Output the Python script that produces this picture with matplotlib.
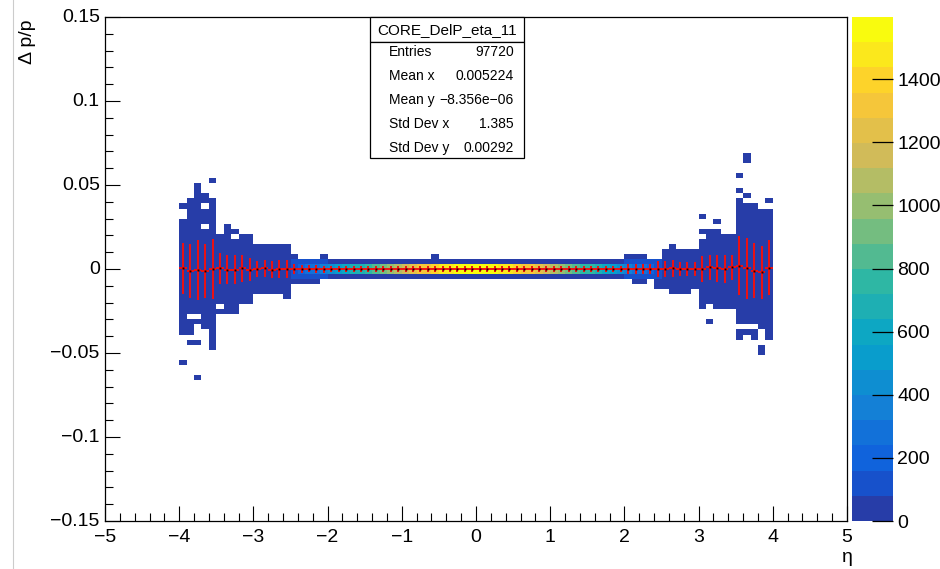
import numpy as np
import matplotlib
matplotlib.use("Agg")
import matplotlib.pyplot as plt
from matplotlib.colors import LinearSegmentedColormap, ListedColormap, BoundaryNorm
from matplotlib.patches import Rectangle
from matplotlib.lines import Line2D
from matplotlib.ticker import MultipleLocator

plt.rcParams['font.family'] = ['Liberation Sans', 'DejaVu Sans']

# ---------------- data ----------------
title = "CORE_DelP_eta_11"
stats_labels = ["Entries", "Mean x", "Mean y", "Std Dev x", "Std Dev y"]
stats_values = ["97720", "0.005224", "\u22128.356e\u221206", "1.385", "0.00292"]

x_bins = (100, -5.0, 5.0)       # eta binning
y_bins = (100, -0.15, 0.15)     # dp/p binning
z_max = 1597.0
n_levels = 20

# occupied columns: eta from -4.0 to 4.0 in steps of 0.1 (80 columns)
col_eta = [round(-3.95 + 0.1 * i, 2) for i in range(80)]

# upper / lower edge of the filled region in each column (dp/p)
env_top = [0.039, 0.042, 0.051, 0.045, 0.042, 0.021, 0.027, 0.024, 0.021, 0.021,
           0.015, 0.015, 0.015, 0.015, 0.015, 0.009, 0.006, 0.006, 0.006, 0.009,
           0.006, 0.006, 0.006, 0.006, 0.006, 0.006, 0.006, 0.006, 0.006, 0.006,
           0.006, 0.006, 0.006, 0.006, 0.009, 0.006, 0.006, 0.006, 0.006, 0.006,
           0.006, 0.006, 0.006, 0.006, 0.006, 0.006, 0.006, 0.006, 0.006, 0.006,
           0.006, 0.006, 0.006, 0.006, 0.006, 0.006, 0.006, 0.006, 0.006, 0.006,
           0.009, 0.009, 0.009, 0.006, 0.006, 0.012, 0.015, 0.012, 0.012, 0.012,
           0.024, 0.024, 0.024, 0.021, 0.021, 0.042, 0.039, 0.039, 0.036, 0.036]
env_bot = [-0.036, -0.036, -0.033, -0.036, -0.048, -0.027, -0.027, -0.027, -0.021, -0.021,
           -0.015, -0.015, -0.015, -0.015, -0.018, -0.009, -0.009, -0.009, -0.009, -0.006,
           -0.006, -0.006, -0.006, -0.006, -0.006, -0.006, -0.006, -0.006, -0.006, -0.006,
           -0.006, -0.006, -0.006, -0.006, -0.006, -0.006, -0.006, -0.006, -0.006, -0.006,
           -0.006, -0.006, -0.006, -0.006, -0.006, -0.006, -0.006, -0.006, -0.006, -0.006,
           -0.006, -0.006, -0.006, -0.006, -0.006, -0.006, -0.006, -0.006, -0.006, -0.006,
           -0.006, -0.009, -0.009, -0.006, -0.012, -0.012, -0.015, -0.015, -0.015, -0.012,
           -0.024, -0.021, -0.024, -0.024, -0.024, -0.033, -0.033, -0.033, -0.036, -0.042]

# counts in the two central dp/p bins of each column
band_inner = [20, 25, 22, 24, 30, 35, 38, 40, 42, 45,
              55, 60, 62, 65, 70, 150, 200, 250, 300, 360,
              430, 500, 570, 640, 710, 790, 860, 930, 1000, 1070,
              1140, 1210, 1280, 1340, 1400, 1450, 1500, 1530, 1560, 1590,
              1585, 1555, 1530, 1500, 1460, 1410, 1350, 1290, 1220, 1150,
              1080, 1000, 930, 860, 790, 720, 650, 580, 510, 440,
              370, 310, 250, 200, 150, 70, 65, 62, 60, 55,
              45, 42, 40, 38, 35, 30, 24, 22, 25, 20]
# counts in the next bin above / below the centre
band_outer = [8, 8, 9, 9, 10, 10, 11, 12, 12, 13,
              14, 15, 16, 16, 18, 85, 95, 100, 105, 110,
              60, 62, 64, 66, 68, 70, 70, 72, 72, 74,
              74, 75, 75, 76, 76, 77, 77, 77, 78, 78,
              78, 78, 77, 77, 77, 76, 76, 75, 75, 74,
              74, 72, 72, 70, 70, 68, 66, 64, 62, 60,
              110, 105, 100, 95, 85, 18, 16, 16, 15, 14,
              13, 12, 12, 11, 10, 10, 9, 9, 8, 8]
# counts in the remaining tail bins of each column
tail_count = [3, 3, 3, 3, 3, 4, 4, 4, 4, 4,
              5, 5, 5, 5, 5, 6, 6, 6, 6, 6,
              6, 6, 6, 6, 6, 6, 6, 6, 6, 6,
              6, 6, 6, 6, 6, 6, 6, 6, 6, 6,
              6, 6, 6, 6, 6, 6, 6, 6, 6, 6,
              6, 6, 6, 6, 6, 6, 6, 6, 6, 6,
              6, 6, 6, 6, 6, 5, 5, 5, 5, 5,
              4, 4, 4, 4, 4, 3, 3, 3, 3, 3]

# isolated filled cells (eta, dp/p)
iso_eta = [-3.55, -3.95, -3.85, -3.85, -3.75, -3.95, -3.75,
           3.55, 3.55, 3.65, 3.65, 3.65, 3.95, 3.05, 3.25, 3.15,
           3.55, 3.55, 3.65, 3.75, 3.75, 3.85, 3.85]
iso_dpp = [0.0525, -0.0375, -0.0375, -0.0435, -0.0435, -0.0555, -0.0645,
           0.0555, 0.0465, 0.0435, 0.0645, 0.0675, 0.0405, 0.0315, 0.0285, -0.0315,
           -0.0375, -0.0405, -0.0375, -0.0375, -0.0405, -0.0465, -0.0495]
iso_count = [2, 1, 1, 1, 1, 1, 1,
             1, 2, 1, 1, 1, 2, 1, 1, 1,
             1, 1, 1, 1, 1, 1, 1]

# empty cells inside the filled region (eta, dp/p)
hole_eta = [-3.95, -3.95, -3.65, -3.65, -3.25, -3.45, -3.85, -3.75, 3.05]
hole_dpp = [0.0315, 0.0345, 0.0375, 0.0255, 0.0195, -0.0225, -0.0285, -0.0285, 0.0195]

# profile (mean and spread of dp/p in each eta column)
prof_mean = [0.0003, -0.0012, -0.0006, -0.0012, 0.0, 0.0003, -0.0003, -0.0003, 0.0003, -0.0003,
             0.0, 0.0003, -0.0003, 0.0, 0.0, 0.0, 0.0, 0.0001, 0.0, -0.0001,
             0.0, 0.0001, 0.0, 0.0, -0.0001, 0.0, 0.0, 0.0001, 0.0, 0.0,
             0.0, 0.0, 0.0, 0.0001, 0.0, 0.0, 0.0, 0.0, 0.0, 0.0,
             0.0, 0.0, 0.0, 0.0, 0.0, 0.0, 0.0, 0.0, 0.0, 0.0,
             0.0, 0.0, -0.0001, 0.0, 0.0, 0.0, 0.0, 0.0, 0.0001, 0.0,
             0.0, 0.0, 0.0, 0.0, 0.0, 0.0, 0.0003, 0.0, 0.0, 0.0,
             0.0, 0.0009, 0.0003, 0.0, 0.0009, 0.002, 0.0003, -0.001, -0.002, 0.0008]
prof_err = [0.015, 0.0162, 0.0177, 0.0159, 0.0177, 0.0093, 0.0087, 0.0084, 0.0081, 0.0069,
            0.0045, 0.0048, 0.0048, 0.0051, 0.0054, 0.003, 0.0024, 0.0021, 0.0021, 0.0021,
            0.0019, 0.0018, 0.0018, 0.0018, 0.0017, 0.0017, 0.0017, 0.0017, 0.0016, 0.0016,
            0.0016, 0.0016, 0.0016, 0.0016, 0.0016, 0.0016, 0.0016, 0.0016, 0.0016, 0.0016,
            0.0016, 0.0016, 0.0016, 0.0016, 0.0016, 0.0016, 0.0016, 0.0016, 0.0016, 0.0016,
            0.0016, 0.0016, 0.0017, 0.0017, 0.0017, 0.0017, 0.0018, 0.0018, 0.0018, 0.0019,
            0.0027, 0.0027, 0.003, 0.003, 0.0048, 0.0045, 0.0048, 0.0039, 0.0039, 0.0042,
            0.0078, 0.0075, 0.0078, 0.0081, 0.0075, 0.0174, 0.0183, 0.0165, 0.0156, 0.0165]

# ---------------- build histogram ----------------
nx, x0, x1 = x_bins
ny, y0, y1 = y_bins
dx = (x1 - x0) / nx
dy = (y1 - y0) / ny
xedges = np.linspace(x0, x1, nx + 1)
yedges = np.linspace(y0, y1, ny + 1)
H = np.zeros((nx, ny))

def xbin(e):
    return int(np.floor((e - x0) / dx + 1e-6))

def ybin(v):
    return int(np.floor((v - y0) / dy + 1e-6))

jzero = ybin(0.0)
for k, e in enumerate(col_eta):
    ix = xbin(e)
    jb = int(round((env_bot[k] - y0) / dy))
    jt = int(round((env_top[k] - y0) / dy))
    for j in range(jb, jt):
        H[ix, j] = tail_count[k]
    H[ix, jzero] = band_inner[k]
    H[ix, jzero - 1] = band_inner[k]
    H[ix, jzero + 1] = band_outer[k]
    H[ix, jzero - 2] = band_outer[k]
for e, v, c in zip(iso_eta, iso_dpp, iso_count):
    H[xbin(e), ybin(v)] = c
for e, v in zip(hole_eta, hole_dpp):
    H[xbin(e), ybin(v)] = 0

Hm = np.ma.masked_where(H <= 0, H)

# ROOT kBird palette with 20 contour levels
stops = [0.0, 0.125, 0.25, 0.375, 0.5, 0.625, 0.75, 0.875, 1.0]
red = [0.2082, 0.0592, 0.0780, 0.0232, 0.1802, 0.5301, 0.8186, 0.9956, 0.9764]
green = [0.1664, 0.3599, 0.5041, 0.6419, 0.7178, 0.7492, 0.7328, 0.7862, 0.9832]
blue = [0.5293, 0.8684, 0.8385, 0.7914, 0.6425, 0.4662, 0.3499, 0.1968, 0.0539]
bird = LinearSegmentedColormap.from_list(
    "bird", list(zip(stops, zip(red, green, blue))), N=255)
cols = [bird(int((i + 0.99) * 255.0 / n_levels) / 254.0) for i in range(n_levels)]
cmap = ListedColormap(cols)
levels = np.linspace(0, z_max, n_levels + 1)
norm = BoundaryNorm(levels, n_levels)

# ---------------- figure ----------------
W, Hpx = 940, 569
fig = plt.figure(figsize=(W / 100, Hpx / 100), dpi=100)
fig.patch.set_facecolor('white')

def fx(px):
    return px / W

def fy(py):
    return 1 - py / Hpx

ax_l, ax_r, ax_t, ax_b = 105, 847, 17, 521
ax = fig.add_axes([fx(ax_l), fy(ax_b), fx(ax_r - ax_l), (ax_b - ax_t) / Hpx])
ax.pcolormesh(xedges, yedges, Hm.T, cmap=cmap, norm=norm, shading='flat',
              edgecolors='none', antialiased=False)

xc = np.array(col_eta)
ax.errorbar(xc, prof_mean, xerr=dx / 2, yerr=prof_err, fmt='none',
            ecolor='#f01010', elinewidth=1.4, capsize=0, zorder=3)
ax.plot(xc, prof_mean, ls='none', marker='s', ms=1.4, mew=0, color='#200000', zorder=4)

ax.set_xlim(x0, x1)
ax.set_ylim(y0, y1)
ax.xaxis.set_major_locator(MultipleLocator(1))
ax.xaxis.set_minor_locator(MultipleLocator(0.2))
ax.yaxis.set_major_locator(MultipleLocator(0.05))
ax.yaxis.set_minor_locator(MultipleLocator(0.01))
ax.tick_params(which='both', direction='in', top=False, right=False,
               labelsize=14, width=0.8, color='black')
ax.tick_params(which='major', length=11)
ax.tick_params(which='minor', length=5.5)
ax.set_xticklabels([])
ax.set_yticklabels([])
for v in range(-5, 6):
    ax.text(v, -0.1545, ("\u2212" if v < 0 else "") + str(abs(v)),
            transform=ax.transData, ha='center', va='top', fontsize=14)
ylabs = {-0.15: "\u22120.15", -0.1: "\u22120.1", -0.05: "\u22120.05", 0.0: "0",
         0.05: "0.05", 0.1: "0.1", 0.15: "0.15"}
for v, s in ylabs.items():
    ax.text(-5.07, v, s, ha='right', va='center', fontsize=14)
for sp in ax.spines.values():
    sp.set_linewidth(0.9)
    sp.set_color('black')

fig.text(fx(27.5), fy(20), "\u0394 p/p", rotation=90, ha='center', va='top', fontsize=14)
fig.text(fx(853), fy(557), "\u03b7", ha='right', va='center', fontsize=14)

# colorbar
cax = fig.add_axes([fx(851.7), fy(ax_b), fx(893.3 - 851.7), (ax_b - ax_t) / Hpx])
for i in range(n_levels):
    cax.add_patch(Rectangle((0, levels[i]), 1, levels[i + 1] - levels[i],
                            facecolor=cols[i], edgecolor='none'))
cax.set_xlim(0, 1)
cax.set_ylim(0, z_max)
cax.set_xticks([])
cax.yaxis.tick_right()
cax.set_yticks(np.arange(0, 1401, 200))
cax.tick_params(axis='y', direction='in', length=15, width=0.9, labelsize=14, pad=3)
for sp in cax.spines.values():
    sp.set_visible(False)

# stats box
bx0, bx1 = 370, 524
by0, by1, by2 = 17, 42, 158
fig.add_artist(Rectangle((fx(bx0), fy(by1)), fx(bx1 - bx0), (by1 - by0) / Hpx,
                         transform=fig.transFigure, facecolor='white',
                         edgecolor='black', lw=0.9, zorder=5))
fig.add_artist(Rectangle((fx(bx0), fy(by2)), fx(bx1 - bx0), (by2 - by1) / Hpx,
                         transform=fig.transFigure, facecolor='white',
                         edgecolor='black', lw=0.9, zorder=5))
fig.text(fx((bx0 + bx1) / 2), fy((by0 + by1) / 2 + 0.5), title, ha='center', va='center',
         fontsize=11, zorder=6)
row_y = [52, 76, 100, 124, 148]
for lab, val, yy in zip(stats_labels, stats_values, row_y):
    fig.text(fx(389), fy(yy), lab, ha='left', va='center', fontsize=10, zorder=6)
    fig.text(fx(514), fy(yy), val, ha='right', va='center', fontsize=10, zorder=6)

# screenshot border line at far left
fig.add_artist(Line2D([fx(12.5), fx(12.5)], [0, 1], transform=fig.transFigure,
                      color='#cccccc', lw=0.8))

fig.savefig("out.png", dpi=100, facecolor='white')
